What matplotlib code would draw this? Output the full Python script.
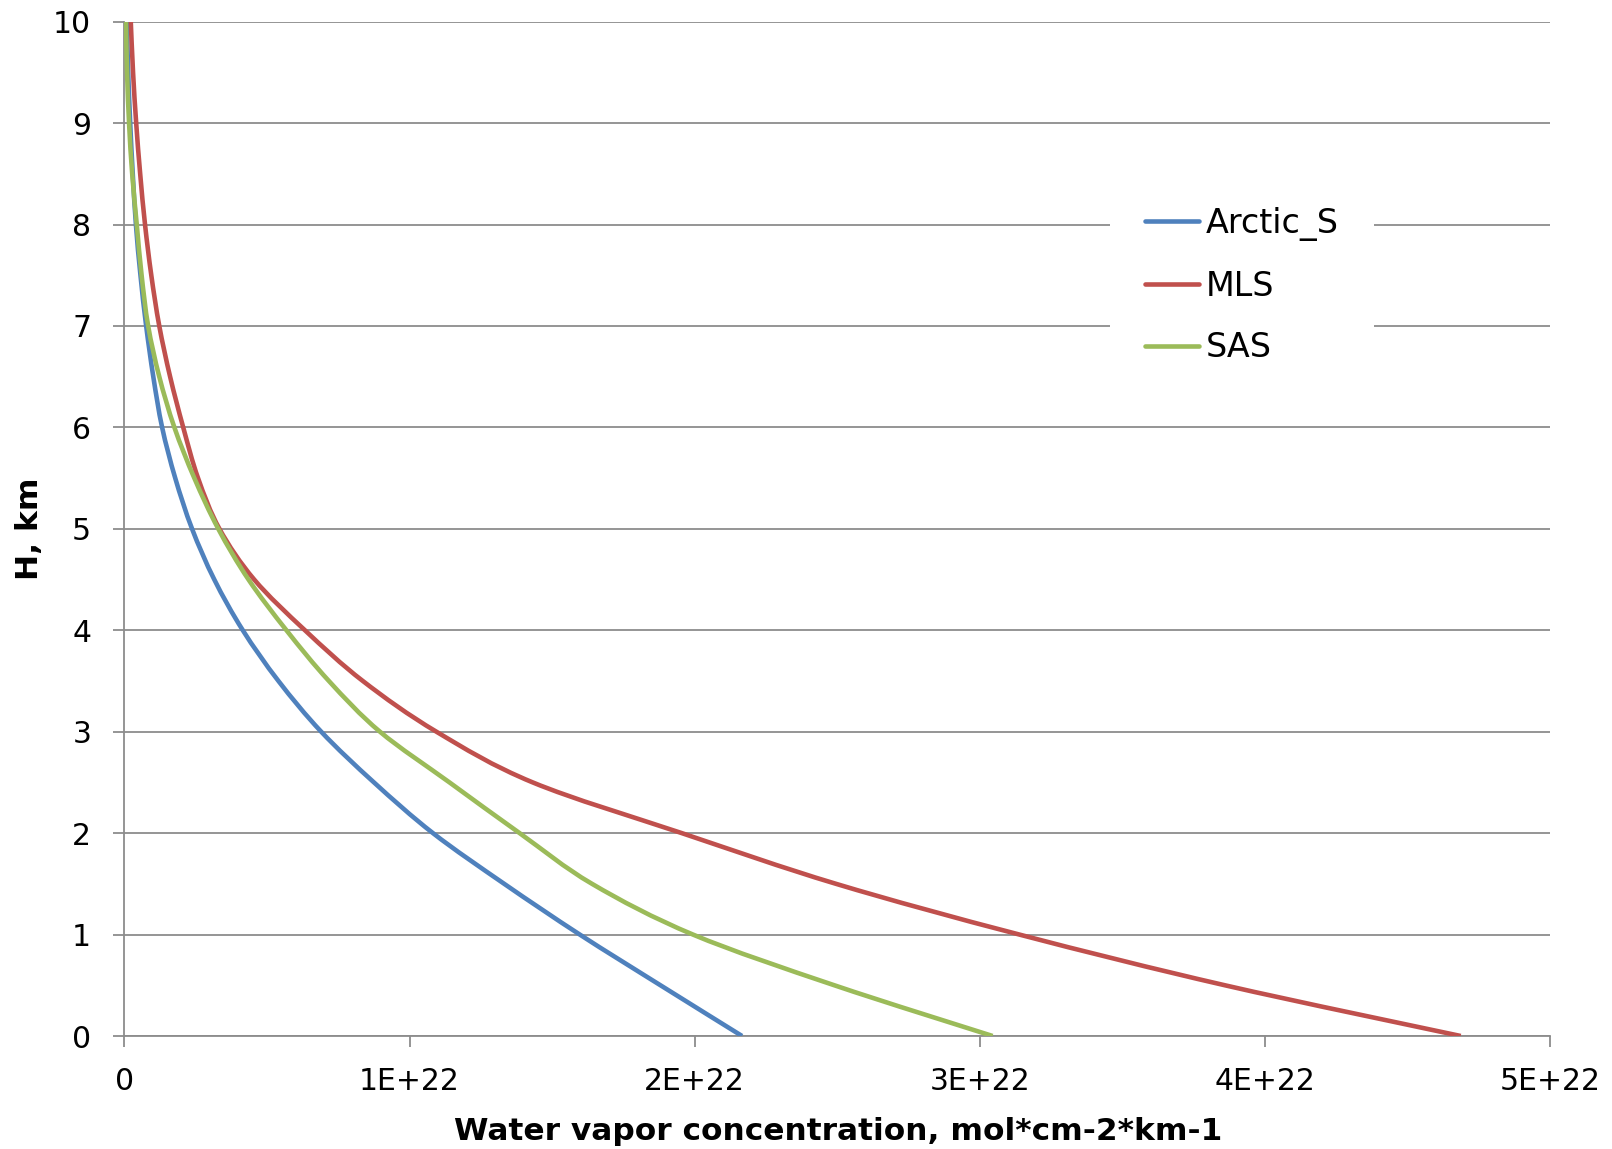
import numpy as np
import matplotlib
matplotlib.use("Agg")
import matplotlib.pyplot as plt
from matplotlib.path import Path
from matplotlib.patches import PathPatch
from matplotlib.lines import Line2D

# ---- data (concentration in units of 1E+22 mol*cm-2*km-1) ----
heights = [0, 0.5, 1, 1.5, 2, 2.5, 3, 3.5, 4, 4.5, 5, 5.5, 6, 6.5, 7, 7.5, 8, 8.5, 9, 9.5, 10]
arctic_s = [2.166, 1.88, 1.597, 1.332, 1.082, 0.875, 0.69, 0.54, 0.415, 0.315, 0.237,
            0.178, 0.132, 0.101, 0.076, 0.056, 0.040, 0.029, 0.020, 0.013, 0.008]
mls = [4.687, 3.86, 3.139, 2.496, 1.955, 1.432, 1.094, 0.836, 0.633, 0.455, 0.333,
       0.258, 0.206, 0.160, 0.122, 0.094, 0.072, 0.055, 0.041, 0.030, 0.022]
sas = [3.045, 2.49, 1.994, 1.64, 1.386, 1.14, 0.896, 0.717, 0.568, 0.435, 0.329,
       0.245, 0.175, 0.122, 0.083, 0.060, 0.043, 0.027, 0.016, 0.009, 0.005]
series_names = ["Arctic_S", "MLS", "SAS"]
series_colors = ["#4F81BD", "#C0504D", "#9BBB59"]
x_ticks = [0, 1, 2, 3, 4, 5]
x_tick_labels = ["0", "1E+22", "2E+22", "3E+22", "4E+22", "5E+22"]
y_ticks = list(range(0, 11))
SCALE = 1e22

plt.rcParams['font.family'] = ['DejaVu Sans']

fig = plt.figure(figsize=(16.12, 11.49), dpi=100)
ax = fig.add_axes([124.5 / 1612, 1 - 1036 / 1149, (1550 - 124.5) / 1612, (1036 - 21.7) / 1149])


def smooth_path(xs, ys):
    """Excel-like smoothed line: Catmull-Rom segments as cubic Beziers."""
    pts = np.column_stack([xs, ys])
    n = len(pts)
    verts = [pts[0]]
    codes = [Path.MOVETO]
    for i in range(n - 1):
        p0 = pts[i - 1] if i > 0 else pts[i]
        p1 = pts[i]
        p2 = pts[i + 1]
        p3 = pts[i + 2] if i + 2 < n else pts[i + 1]
        c1 = p1 + (p2 - p0) / 6.0
        c2 = p2 - (p3 - p1) / 6.0
        verts += [c1, c2, p2]
        codes += [Path.CURVE4] * 3
    return Path(verts, codes)


LW = 3.3
handles = []
for vals, name, col in zip([arctic_s, mls, sas], series_names, series_colors):
    xs = np.array(vals) * SCALE
    p = smooth_path(xs, np.array(heights, dtype=float))
    ax.add_patch(PathPatch(p, facecolor='none', edgecolor=col, lw=LW,
                           capstyle='butt', joinstyle='round', zorder=3))
    handles.append(Line2D([], [], color=col, lw=LW, label=name,
                          solid_capstyle='round'))

ax.set_xlim(0, 5 * SCALE)
ax.set_ylim(0, 10)
ax.set_xticks([t * SCALE for t in x_ticks])
ax.set_xticklabels(x_tick_labels)
ax.set_yticks(y_ticks)

ax.grid(axis='y', color='#8c8c8c', lw=1.3)
ax.set_axisbelow(True)
for s in ['top', 'right']:
    ax.spines[s].set_visible(False)
for s in ['left', 'bottom']:
    ax.spines[s].set_color('#8c8c8c')
    ax.spines[s].set_linewidth(1.3)
ax.tick_params(axis='both', direction='out', length=8, width=1.3, color='#8c8c8c',
               labelsize=21.5, labelcolor='black')
ax.tick_params(axis='x', pad=14)
ax.tick_params(axis='y', pad=16)

fig.text(838 / 1612, 1 - 1131 / 1149, "Water vapor concentration, mol*cm-2*km-1",
         ha='center', va='center', fontsize=22.5, fontweight='bold')
fig.text(29 / 1612, 1 - 529 / 1149, "H, km", ha='center', va='center',
         rotation=90, fontsize=22.5, fontweight='bold')

leg = ax.legend(handles=handles, loc='upper left',
                bbox_to_anchor=(1110 / 1612, 1 - 172 / 1149),
                bbox_transform=fig.transFigure, frameon=True, fancybox=False,
                facecolor='white', edgecolor='none', framealpha=1,
                fontsize=24, handlelength=1.62, handletextpad=0.2,
                labelspacing=0.86, borderpad=1.05, borderaxespad=0)
leg.set_zorder(5)

fig.savefig("out.png", dpi=100, facecolor='white')
